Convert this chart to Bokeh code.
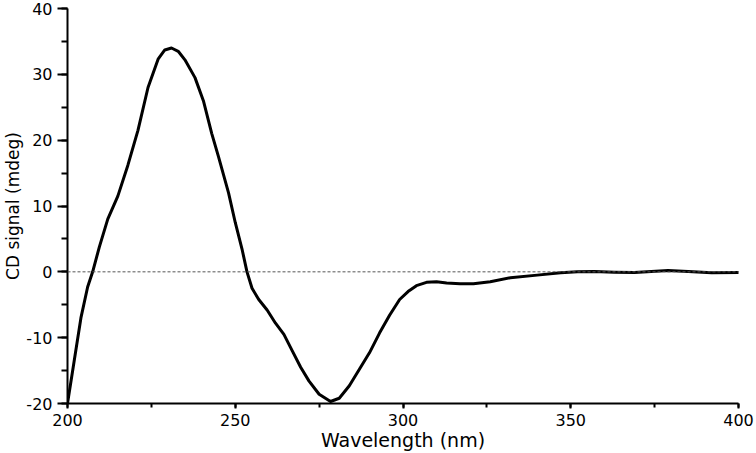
from bokeh.plotting import figure
from bokeh.models import SingleIntervalTicker, Span, PrintfTickFormatter
from bokeh.embed import file_html
from bokeh.resources import INLINE

wavelength = [200, 202, 204, 206, 207.5, 209.5, 212, 215, 218, 221, 224, 227, 229, 231,
              233, 235, 238, 240.5, 243, 245, 248, 250, 252, 253.5, 255, 257, 259.5, 262,
              264.5, 267, 269.5, 272, 275, 278.4, 281, 284, 287, 290, 293, 296, 299,
              301.5, 304, 307, 310, 313, 317, 321, 326, 332, 340, 347, 352, 357, 363,
              369, 374, 379, 385, 392, 400]
cd_signal = [-20, -13.5, -7, -2.3, 0, 3.8, 8, 11.5, 16.2, 21.5, 28.0, 32.3, 33.7, 34,
             33.5, 32.2, 29.5, 26, 21, 17.5, 12, 7.5, 3.5, 0, -2.5, -4.2, -5.8, -7.8,
             -9.5, -12, -14.5, -16.6, -18.6, -19.7, -19.2, -17.3, -14.8, -12.3, -9.3, -6.6, -4.2,
             -3.0, -2.1, -1.6, -1.5, -1.7, -1.8, -1.8, -1.5, -0.9, -0.5, -0.15, 0, 0.05, -0.05,
             -0.1, 0.05, 0.2, 0.05, -0.15, -0.1]

x_ticks_interval = 50
y_ticks_interval = 10

p = figure(width=756, height=453, output_backend="svg", toolbar_location=None,
           x_range=(200, 400), y_range=(-20, 40),
           min_border_left=67, min_border_right=18, min_border_top=8, min_border_bottom=50)
p.outline_line_color = None
p.xgrid.visible = False
p.ygrid.visible = False
p.background_fill_color = "white"
p.border_fill_color = "white"

p.xaxis.ticker = SingleIntervalTicker(interval=x_ticks_interval, num_minor_ticks=2)
p.yaxis.ticker = SingleIntervalTicker(interval=y_ticks_interval, num_minor_ticks=2)
p.xaxis.formatter = PrintfTickFormatter(format="%d")
p.yaxis.formatter = PrintfTickFormatter(format="%d")

for ax in (p.xaxis, p.yaxis):
    ax.axis_line_width = 2
    ax.axis_line_color = "black"
    ax.major_tick_line_width = 2
    ax.minor_tick_line_width = 2
    ax.major_tick_line_color = "black"
    ax.minor_tick_line_color = "black"
    ax.major_tick_in = 0
    ax.minor_tick_in = 0
    ax.major_label_text_font = "DejaVu Sans"
    ax.major_label_text_font_size = "16px"
    ax.major_label_text_color = "black"
    ax.axis_label_text_font = "DejaVu Sans"
    ax.axis_label_text_font_style = "normal"
    ax.axis_label_text_color = "black"

p.xaxis.major_tick_out = 5
p.xaxis.minor_tick_out = 4
p.xaxis.major_label_standoff = 5
p.xaxis.axis_label = "Wavelength (nm)"
p.xaxis.axis_label_text_font_size = "19px"
p.xaxis.axis_label_standoff = 0

p.yaxis.major_tick_out = 10
p.yaxis.minor_tick_out = 6
p.yaxis.major_label_standoff = 5
p.yaxis.axis_label = "CD signal (mdeg)"
p.yaxis.axis_label_text_font_size = "17px"
p.yaxis.axis_label_standoff = 0

zero = Span(location=0, dimension="width", line_color="#555555", line_width=1, line_dash="3 2")
p.add_layout(zero)

p.line(wavelength, cd_signal, line_color="black", line_width=3, line_join="round", line_cap="round")

open("out.html", "w").write(file_html(p, INLINE))
